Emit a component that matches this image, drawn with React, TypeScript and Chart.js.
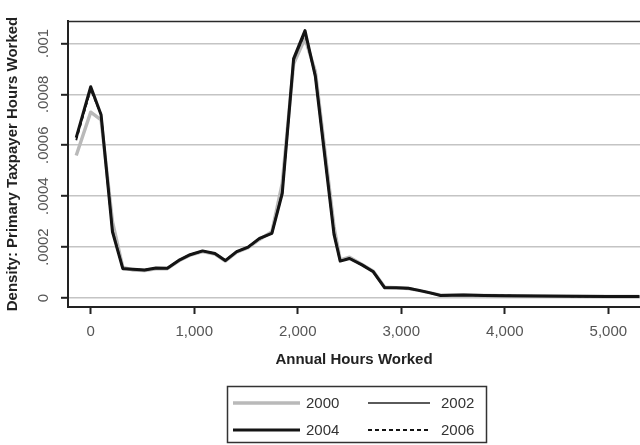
import React, { useEffect, useRef } from "react";
import { Chart, registerables } from "chart.js";

Chart.register(...registerables);

// ---- data ----
const hours = [
  -140, 0, 100, 210, 310, 410, 520, 630, 740, 860, 960, 1080, 1200, 1300, 1410, 1520, 1630, 1750, 1850, 1960,
  2070, 2170, 2350, 2410, 2500, 2620, 2730, 2840, 2950, 3070, 3170, 3280, 3380, 3600, 3800, 4000, 4300, 4600, 5000, 5300,
];

const density2000 = [
  0.00056, 0.00073, 0.0007, 0.0003, 0.00012, 0.00011, 0.000108, 0.000115, 0.000115, 0.000148, 0.000168, 0.000182,
  0.000172, 0.000145, 0.00018, 0.000198, 0.00023, 0.00026, 0.00045, 0.00092, 0.00102, 0.00089, 0.00028, 0.00015,
  0.00016, 0.000132, 0.000105, 0.000042, 0.00004, 0.000037, 0.00003, 0.00002, 0.000011, 0.000012, 0.00001, 0.000009,
  0.000008, 0.000007, 0.000006, 0.000006,
];

const density2002 = [
  0.00063, 0.00082, 0.00072, 0.00027, 0.000117, 0.000112, 0.000109, 0.000117, 0.000116, 0.000149, 0.000169, 0.000184,
  0.000174, 0.000146, 0.000181, 0.000199, 0.000232, 0.000256, 0.00042, 0.00093, 0.00104, 0.00088, 0.00026, 0.000146,
  0.000156, 0.000131, 0.000104, 0.000041, 0.00004, 0.000038, 0.00003, 0.00002, 0.00001, 0.000012, 0.00001, 0.000009,
  0.000008, 0.000007, 0.000006, 0.000006,
];

const density2004 = [
  0.00063, 0.00083, 0.00072, 0.00026, 0.000115, 0.000113, 0.00011, 0.000118, 0.000117, 0.00015, 0.00017, 0.000185,
  0.000175, 0.000147, 0.000182, 0.0002, 0.000234, 0.000254, 0.00041, 0.00094, 0.00105, 0.00087, 0.00025, 0.000145,
  0.000155, 0.00013, 0.000103, 0.00004, 0.00004, 0.000038, 0.00003, 0.00002, 0.00001, 0.000012, 0.00001, 0.000009,
  0.000008, 0.000007, 0.000006, 0.000006,
];

const density2006 = [
  0.00062, 0.00082, 0.00072, 0.00026, 0.000116, 0.000113, 0.00011, 0.000118, 0.000117, 0.00015, 0.00017, 0.000184,
  0.000175, 0.000148, 0.000182, 0.0002, 0.000233, 0.000254, 0.00041, 0.00094, 0.00104, 0.00087, 0.00025, 0.000145,
  0.000155, 0.00013, 0.000103, 0.00004, 0.00004, 0.000038, 0.00003, 0.00002, 0.00001, 0.000012, 0.00001, 0.000009,
  0.000008, 0.000007, 0.000006, 0.000006,
];

const seriesNames = ["2000", "2002", "2004", "2006"];
const seriesValues = [density2000, density2002, density2004, density2006];

const xTickValues = [0, 1000, 2000, 3000, 4000, 5000];
const xTickLabels = ["0", "1,000", "2,000", "3,000", "4,000", "5,000"];
const yTickValues = [0, 0.0002, 0.0004, 0.0006, 0.0008, 0.001];
const yTickLabels = ["0", ".0002", ".0004", ".0006", ".0008", ".001"];

const xTitle = "Annual Hours Worked";
const yTitle = "Density: Primary Taxpayer Hours Worked";

// ---- styles ----
const FONT = "'Liberation Sans', Arial, Helvetica, sans-serif";
const seriesStyles = [
  { color: "#b9b9b9", width: 3.4, dash: [] as number[], order: 4 },
  { color: "#5a5a5a", width: 1.8, dash: [] as number[], order: 3 },
  { color: "#141414", width: 3, dash: [] as number[], order: 1 },
  { color: "#141414", width: 1.8, dash: [4, 3], order: 2 },
];

const decorPlugin = {
  id: "decor",
  afterDraw(chart: any) {
    const ctx = chart.ctx as CanvasRenderingContext2D;
    const area = chart.chartArea;
    const yScale = chart.scales.y;
    ctx.save();

    // top frame
    ctx.strokeStyle = "#2a2a2a";
    ctx.lineWidth = 1.6;
    ctx.beginPath();
    ctx.moveTo(area.left, area.top + 0.5);
    ctx.lineTo(area.right, area.top + 0.5);
    ctx.stroke();

    // y tick labels (rotated)
    ctx.fillStyle = "#555";
    ctx.font = `15px ${FONT}`;
    ctx.textAlign = "center";
    ctx.textBaseline = "middle";
    yTickValues.forEach((v, i) => {
      const y = yScale.getPixelForValue(v);
      ctx.save();
      ctx.translate(44, y);
      ctx.rotate(-Math.PI / 2);
      ctx.fillText(yTickLabels[i], 0, 0);
      ctx.restore();
    });

    // titles
    ctx.fillStyle = "#222";
    ctx.font = `bold 15px ${FONT}`;
    ctx.save();
    ctx.translate(13, (area.top + area.bottom) / 2);
    ctx.rotate(-Math.PI / 2);
    ctx.fillText(yTitle, 0, 0);
    ctx.restore();
    ctx.fillText(xTitle, (area.left + area.right) / 2, 360);

    // legend box
    ctx.strokeStyle = "#333";
    ctx.lineWidth = 1.5;
    ctx.strokeRect(227.5, 386.5, 259, 56);
    const cols = [
      { x1: 233, x2: 300, tx: 306 },
      { x1: 368, x2: 430, tx: 441 },
    ];
    const rows = [403, 430];
    ctx.font = `15px ${FONT}`;
    ctx.textAlign = "left";
    seriesNames.forEach((name, i) => {
      const c = cols[i % 2];
      const r = rows[Math.floor(i / 2)];
      const st = seriesStyles[i];
      ctx.strokeStyle = st.color;
      ctx.lineWidth = st.width;
      ctx.setLineDash(st.dash);
      ctx.beginPath();
      ctx.moveTo(c.x1, r);
      ctx.lineTo(c.x2, r);
      ctx.stroke();
      ctx.setLineDash([]);
      ctx.fillStyle = "#333";
      ctx.fillText(name, c.tx, r + 1);
    });

    ctx.restore();
  },
};

export default function App() {
  const ref = useRef<HTMLCanvasElement | null>(null);

  useEffect(() => {
    if (!ref.current) return;
    const chart = new Chart(ref.current, {
      type: "line",
      data: {
        datasets: seriesNames.map((name, i) => ({
          label: name,
          data: hours.map((h, j) => ({ x: h, y: seriesValues[i][j] })),
          borderColor: seriesStyles[i].color,
          borderWidth: seriesStyles[i].width,
          borderDash: seriesStyles[i].dash,
          order: seriesStyles[i].order,
          pointRadius: 0,
          tension: 0,
          fill: false,
          borderJoinStyle: "round" as const,
        })),
      },
      options: {
        animation: false,
        responsive: false,
        devicePixelRatio: 1,
        layout: { padding: { top: 21, right: 0, left: 0, bottom: 0 } },
        plugins: { legend: { display: false }, tooltip: { enabled: false } },
        scales: {
          x: {
            type: "linear",
            min: -219.5,
            max: 5306,
            afterBuildTicks: (s: any) => {
              s.ticks = xTickValues.map((v) => ({ value: v }));
            },
            afterFit: (s: any) => {
              s.height = 138;
            },
            ticks: {
              autoSkip: false,
              maxRotation: 0,
              minRotation: 0,
              padding: 9,
              color: "#555",
              font: { family: FONT, size: 15 },
              callback: (v: any) => xTickLabels[xTickValues.indexOf(Number(v))] ?? "",
            },
            grid: {
              drawOnChartArea: false,
              drawTicks: true,
              tickLength: 7,
              tickWidth: 2,
              tickColor: "#222",
            },
            border: { display: true, color: "#222", width: 2 },
          },
          y: {
            type: "linear",
            min: -0.0000354,
            max: 0.001088,
            afterBuildTicks: (s: any) => {
              s.ticks = yTickValues.map((v) => ({ value: v }));
            },
            afterFit: (s: any) => {
              s.width = 68;
            },
            ticks: { display: false },
            grid: {
              color: "#c4c4c4",
              lineWidth: 1.6,
              drawTicks: true,
              tickLength: 7,
              tickWidth: 2,
              tickColor: "#222",
            },
            border: { display: true, color: "#222", width: 2 },
          },
        },
      },
      plugins: [decorPlugin],
    });
    return () => chart.destroy();
  }, []);

  return (
    <div style={{ position: "fixed", left: 0, top: 0, width: 640, height: 445, background: "#fff" }}>
      <canvas ref={ref} width={640} height={445} style={{ display: "block" }} />
    </div>
  );
}
